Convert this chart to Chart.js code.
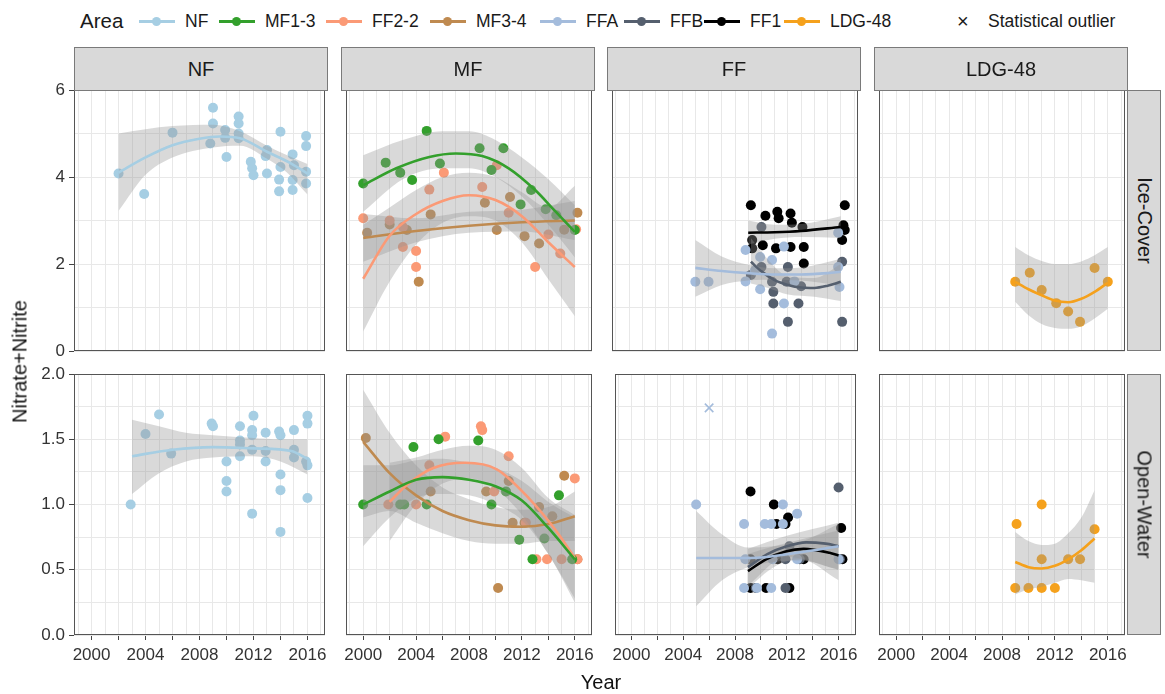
<!DOCTYPE html>
<html>
<head>
<meta charset="utf-8">
<script src="https://cdn.jsdelivr.net/npm/chart.js@4.4.0/dist/chart.umd.min.js"></script>
<style>
body{margin:0;background:#fff;font-family:"Liberation Sans",Arial,sans-serif;}
#wrap{position:relative;width:1165px;height:694px;overflow:hidden;background:#fff;}
#wrap canvas{position:absolute;}
.strip{position:absolute;background:#d9d9d9;border:1px solid #7a7a7a;box-sizing:border-box;color:#1a1a1a;font-size:20px;display:flex;align-items:center;justify-content:center;}
.strip span{white-space:nowrap;}
.rot span{transform:rotate(90deg);}
.lgtext{position:absolute;top:10px;font-size:17.5px;line-height:22px;color:#1a1a1a;white-space:nowrap;}
.key{position:absolute;top:20px;height:3px;width:36px;}
.key i{position:absolute;left:13px;top:-3px;width:9px;height:9px;border-radius:50%;}
.title{position:absolute;font-size:20px;color:#111;text-align:center;white-space:nowrap;}
</style>
</head>
<body>
<div id="wrap"></div>
<script>
// ---- data ----
const areaNames = ['NF', 'MF1-3', 'FF2-2', 'MF3-4', 'FFA', 'FFB', 'FF1', 'LDG-48'];
const areaColors = ['#a6cee3', '#33a02c', '#fb9a76', '#bf8a50', '#a4bcdc', '#555f6e', '#000000', '#f5a11c'];
const facetCols = ['NF', 'MF', 'FF', 'LDG-48'];
const facetRows = ['Ice-Cover', 'Open-Water'];
const xTicks = [2000, 2004, 2008, 2012, 2016];
const iceTicks = [0, 2, 4, 6];
const owTicks = [0, 0.5, 1, 1.5, 2];

// Ice-Cover, [year, value]
const nfIce = [[2002,4.08],[2003.9,3.61],[2006,5.02],[2009,5.59],[2009,5.23],[2008.8,4.77],[2009.9,5.08],[2009.9,4.9],[2010,4.46],[2010.9,5.39],[2010.9,5.23],[2010.9,5.0],[2010.9,4.89],[2011.8,4.35],[2011.9,4.2],[2012,4.04],[2013,4.08],[2013,4.62],[2012.9,4.48],[2014,5.04],[2014,4.23],[2013.9,3.94],[2013.9,3.67],[2014.9,4.52],[2015,4.27],[2014.9,3.93],[2014.9,3.7],[2015.9,4.94],[2015.9,4.71],[2015.9,4.12],[2015.9,3.85]];
const nfIceFit = [[2002,4.1],[2004,4.45],[2006,4.73],[2008,4.88],[2009.5,4.93],[2011,4.89],[2013,4.58],[2014.8,4.31],[2016,4.08]];
const nfIceBand = [[2002,3.22,5.0],[2004,4.05,5.1],[2006,4.45,5.17],[2009,4.68,5.2],[2011,4.72,5.05],[2013,4.42,4.72],[2014.5,4.1,4.5],[2016,3.6,4.3]];

const mf13Ice = [[2000,3.85],[2001.7,4.33],[2002.8,4.1],[2003.7,3.93],[2004.8,5.06],[2005.8,4.31],[2008.8,4.66],[2009.7,4.16],[2010.6,4.66],[2011.9,3.37],[2012.7,3.7],[2013.8,3.26],[2014.6,3.12],[2016,2.78]];
const mf13IceFit = [[2000,3.81],[2002.5,4.2],[2005,4.46],[2007,4.54],[2009,4.48],[2011,4.2],[2013,3.7],[2014.5,3.22],[2016,2.74]];
const mf13IceBand = [[2000,3.2,4.5],[2003,3.95,4.85],[2006,4.2,5.05],[2008,4.2,5.05],[2010,4.0,4.85],[2012,3.55,4.45],[2014,2.9,3.95],[2016,2.15,3.35]];

const ff22Ice = [[2000,3.05],[2002,3.0],[2003,2.85],[2003,2.39],[2004,2.3],[2004,1.93],[2005,3.71],[2006.1,4.1],[2009,3.77],[2010.1,4.27],[2011,3.18],[2013,1.93],[2014,2.68],[2014.9,2.24],[2016.1,2.8]];
const ff22IceFit = [[2000,1.66],[2002,2.65],[2004,3.15],[2006,3.45],[2008,3.58],[2010,3.47],[2012,3.1],[2014,2.5],[2016,1.93]];
const ff22IceBand = [[2000,0.45,2.9],[2002,1.6,3.3],[2004,2.45,3.7],[2006,2.95,4.0],[2008,3.1,4.1],[2010,3.0,4.0],[2012,2.5,3.65],[2014,1.65,3.3],[2016,0.8,3.8]];

const mf34Ice = [[2000.3,2.72],[2002,2.91],[2003.3,2.78],[2004.2,1.59],[2005.1,3.14],[2009.2,3.41],[2010.1,2.78],[2011.1,3.54],[2012.2,2.64],[2013.3,2.47],[2015.2,2.79],[2016.2,3.18]];
const mf34IceFit = [[2000,2.6],[2004,2.76],[2008,2.88],[2012,2.96],[2016,3.0]];
const mf34IceBand = [[2000,2.05,3.15],[2004,2.5,3.05],[2008,2.72,3.2],[2012,2.75,3.25],[2016,2.55,3.45]];

const ffaIce = [[2005,1.59],[2006,1.59],[2008.8,2.32],[2008.8,1.6],[2009.9,2.16],[2009.9,1.42],[2010.8,2.09],[2010.8,0.4],[2011.7,2.4],[2011.7,1.09],[2015.8,2.72],[2015.8,1.93],[2015.9,1.47],[2009.5,1.85],[2012.5,1.6]];
const ffaIceFit = [[2005,1.91],[2007,1.84],[2009,1.79],[2011,1.76],[2013,1.76],[2015,1.79],[2016,1.82]];
const ffaIceBand = [[2005,1.25,2.55],[2007,1.52,2.17],[2009,1.62,1.98],[2011,1.64,1.9],[2013,1.62,1.92],[2016,1.5,2.12]];

const ffbIce = [[2010,2.85],[2010,1.93],[2010.9,1.36],[2010.9,1.09],[2012,1.93],[2012,0.67],[2012.8,1.09],[2013,1.49],[2016.1,2.05],[2016.1,0.67],[2011.9,1.59],[2010.8,1.59],[2009.2,1.75]];
const ffbIceFit = [[2009.2,2.05],[2010,1.83],[2011,1.63],[2012,1.52],[2013,1.46],[2014,1.45],[2015,1.5],[2016,1.59]];
const ffbIceBand = [[2009.2,1.55,2.6],[2010.5,1.45,2.1],[2012,1.3,1.72],[2014,1.25,1.68],[2016,1.15,2.0]];

const ff1Ice = [[2009.2,3.35],[2010.3,3.11],[2011.2,3.2],[2011.3,3.05],[2012.2,3.16],[2012.3,2.95],[2013.1,2.85],[2009.3,2.55],[2009.3,2.36],[2010.1,2.43],[2011.1,2.36],[2012.2,2.39],[2013.2,2.39],[2013.2,2.01],[2016.3,3.35],[2016.2,2.89],[2016.3,2.78],[2016.1,2.55]];
const ff1IceFit = [[2009,2.72],[2011,2.73],[2013,2.76],[2016,2.85]];
const ff1IceBand = [[2009,2.45,3.0],[2011,2.58,2.9],[2013,2.62,2.92],[2016,2.6,3.1]];

const ldgIce = [[2009,1.59],[2010.1,1.8],[2011,1.4],[2012.1,1.1],[2013,0.91],[2013.9,0.67],[2015,1.91],[2016,1.59]];
const ldgIceFit = [[2009,1.59],[2010,1.42],[2011,1.28],[2012,1.16],[2013,1.12],[2014,1.2],[2015,1.36],[2016,1.57]];
const ldgIceBand = [[2009,1.13,2.39],[2010,0.82,2.2],[2011,0.62,2.07],[2012,0.53,2.0],[2013,0.51,2.0],[2014,0.57,2.06],[2015,0.75,2.2],[2016,0.97,2.39]];

// Open-Water, [year, value]
const nfOw = [[2002.9,1.0],[2004,1.54],[2005,1.69],[2005.9,1.39],[2008.9,1.62],[2009,1.6],[2010,1.33],[2010,1.18],[2010,1.1],[2011,1.6],[2011,1.49],[2011,1.46],[2011,1.37],[2012,1.68],[2011.9,1.57],[2011.9,1.53],[2011.9,1.42],[2011.9,0.93],[2012.9,1.55],[2012.9,1.41],[2012.9,1.33],[2013.9,1.56],[2014,1.53],[2014,1.23],[2014,1.11],[2014,0.79],[2015,1.57],[2015,1.42],[2015,1.36],[2016,1.68],[2016,1.62],[2015.9,1.33],[2016,1.3],[2016,1.05]];
const nfOwFit = [[2003,1.37],[2006,1.42],[2009,1.44],[2012,1.43],[2014.8,1.41],[2016,1.35]];
const nfOwBand = [[2003,1.08,1.65],[2005,1.24,1.6],[2007,1.33,1.55],[2009,1.36,1.53],[2012,1.37,1.51],[2014,1.33,1.5],[2016,1.23,1.5]];

const mf13Ow = [[2000,1.0],[2002.8,1.0],[2003.1,1.0],[2003.8,1.44],[2004.8,1.0],[2005.7,1.5],[2008.7,1.49],[2009.7,1.0],[2010.8,1.1],[2011.8,0.73],[2012.8,0.58],[2013.7,0.74],[2014.8,1.07],[2015.8,0.58]];
const mf13OwFit = [[2000,1.0],[2002,1.1],[2004,1.19],[2006,1.21],[2008,1.19],[2010,1.14],[2012,1.03],[2014,0.82],[2016,0.58]];
const mf13OwBand = [[2000,0.68,1.3],[2002,0.9,1.3],[2004,1.05,1.34],[2006,1.08,1.35],[2008,1.07,1.32],[2010,1.0,1.28],[2012,0.88,1.18],[2014,0.62,1.02],[2016,0.25,0.9]];

const ff22Ow = [[2001.9,1.0],[2004,1.0],[2005,1.3],[2006.2,1.52],[2008.9,1.6],[2009,1.57],[2009.9,1.1],[2011,1.37],[2012.3,0.86],[2013.1,0.58],[2013.9,0.58],[2015,0.58],[2016,1.2],[2016.2,0.58]];
const ff22OwFit = [[2002,1.02],[2003.3,1.15],[2005.3,1.28],[2007.7,1.32],[2010.1,1.27],[2012.6,1.04],[2014.5,0.81],[2016,0.59]];
const ff22OwBand = [[2002,0.72,1.32],[2004,1.0,1.36],[2006,1.16,1.42],[2008,1.2,1.45],[2010,1.12,1.42],[2012,0.92,1.28],[2014,0.62,1.05],[2016,0.28,0.92]];

const mf34Ow = [[2000.2,1.51],[2005.1,1.1],[2009.3,1.1],[2010.2,0.36],[2011,1.18],[2011.3,0.86],[2012.2,0.86],[2013.3,0.98],[2014.3,0.91],[2015.2,1.22],[2016.2,0.58]];
const mf34OwFit = [[2000,1.48],[2002,1.24],[2004,1.07],[2006,0.95],[2008,0.88],[2010,0.84],[2012,0.83],[2014,0.85],[2016,0.91]];
const mf34OwBand = [[2000,0.9,1.88],[2002,0.95,1.55],[2004,0.86,1.3],[2006,0.78,1.13],[2008,0.72,1.04],[2010,0.7,0.98],[2012,0.7,0.96],[2014,0.72,0.98],[2016,0.72,1.1]];

const ffaOw = [[2005,1.0],[2008.7,0.85],[2008.8,0.58],[2008.7,0.36],[2009.7,0.36],[2010.8,0.36],[2010.8,0.85],[2011.7,1.0],[2011.7,0.85],[2012.8,0.93],[2010.9,0.58],[2012.8,0.58],[2016,0.58],[2010.3,0.85]];
const ffaOwOutlier = [[2006,1.74]];
const ffaOwFit = [[2005,0.59],[2009.2,0.59],[2012.8,0.63],[2016,0.68]];
const ffaOwBand = [[2005,0.22,0.95],[2007,0.42,0.77],[2009,0.52,0.67],[2011,0.56,0.68],[2013,0.57,0.71],[2016,0.5,0.85]];

const ffbOw = [[2016,1.13],[2011.9,0.36],[2011.9,0.58],[2013,0.58],[2012.2,0.68],[2009.6,0.36],[2016.1,0.58]];
const ffbOwFit = [[2009,0.52],[2010.5,0.62],[2012,0.68],[2013.5,0.71],[2015,0.7],[2016,0.68]];
const ffbOwBand = [[2009,0.38,0.66],[2012,0.6,0.76],[2016,0.5,0.86]];

const ff1Ow = [[2009.2,1.1],[2011,1.0],[2012.1,0.9],[2011.9,0.85],[2016.2,0.82],[2016.3,0.58],[2009.2,0.36],[2010.4,0.36],[2012.2,0.36],[2011.2,0.85],[2011.3,0.58],[2013.3,0.58],[2009.2,0.58]];
const ff1OwFit = [[2009,0.49],[2010.4,0.58],[2011.9,0.64],[2013.3,0.66],[2015.3,0.63],[2016,0.61]];
const ff1OwBand = [[2009,0.36,0.62],[2011,0.52,0.68],[2013,0.58,0.73],[2016,0.42,0.8]];

const ldgOw = [[2009,0.36],[2009.1,0.85],[2010,0.36],[2011,1.0],[2011,0.58],[2011,0.36],[2012,0.36],[2013,0.58],[2013.9,0.58],[2015,0.81]];
const ldgOwFit = [[2009,0.56],[2010,0.52],[2011,0.51],[2012,0.53],[2013,0.58],[2014,0.65],[2015,0.74]];
const ldgOwBand = [[2009,0.31,0.79],[2010,0.35,0.72],[2011,0.37,0.69],[2012,0.4,0.7],[2013,0.43,0.78],[2014,0.42,0.9],[2015,0.4,1.11]];

// ---- layout ----
const colLeft = [74, 341, 607, 874];
const rowTop = [90, 374];
const panelW = 254, panelH = 261;

const panels = [
  {c:0, r:0, s:[{a:0, p:nfIce, f:nfIceFit, b:nfIceBand}]},
  {c:1, r:0, s:[{a:1, p:mf13Ice, f:mf13IceFit, b:mf13IceBand}, {a:2, p:ff22Ice, f:ff22IceFit, b:ff22IceBand}, {a:3, p:mf34Ice, f:mf34IceFit, b:mf34IceBand}]},
  {c:2, r:0, s:[{a:4, p:ffaIce, f:ffaIceFit, b:ffaIceBand}, {a:5, p:ffbIce, f:ffbIceFit, b:ffbIceBand}, {a:6, p:ff1Ice, f:ff1IceFit, b:ff1IceBand}]},
  {c:3, r:0, s:[{a:7, p:ldgIce, f:ldgIceFit, b:ldgIceBand}]},
  {c:0, r:1, s:[{a:0, p:nfOw, f:nfOwFit, b:nfOwBand}]},
  {c:1, r:1, s:[{a:1, p:mf13Ow, f:mf13OwFit, b:mf13OwBand}, {a:2, p:ff22Ow, f:ff22OwFit, b:ff22OwBand}, {a:3, p:mf34Ow, f:mf34OwFit, b:mf34OwBand}]},
  {c:2, r:1, s:[{a:4, p:ffaOw, f:ffaOwFit, b:ffaOwBand, o:ffaOwOutlier}, {a:5, p:ffbOw, f:ffbOwFit, b:ffbOwBand}, {a:6, p:ff1Ow, f:ff1OwFit, b:ff1OwBand}]},
  {c:3, r:1, s:[{a:7, p:ldgOw, f:ldgOwFit, b:ldgOwBand}]}
];

Chart.defaults.font.family = '"Liberation Sans", Arial, sans-serif';
Chart.defaults.color = '#333';

const wrap = document.getElementById('wrap');

const panelBorder = {
  id: 'panelBorder',
  afterDatasetsDraw(chart) {
    const a = chart.chartArea, c = chart.ctx;
    c.save();
    c.strokeStyle = '#555';
    c.lineWidth = 1;
    c.strokeRect(Math.round(a.left) + 0.5, Math.round(a.top) + 0.5, Math.round(a.right - a.left) - 1, Math.round(a.bottom - a.top) - 1);
    c.restore();
  }
};

const xy = arr => arr.map(p => ({x: p[0], y: p[1]}));

function buildSets(series) {
  const sets = [];
  series.forEach(s => {
    sets.push({data: xy(s.p), backgroundColor: areaColors[s.a], borderWidth: 0, pointRadius: 5, order: 3});
    if (s.o) {
      sets.push({data: xy(s.o), pointStyle: 'crossRot', pointRadius: 6, borderColor: areaColors[s.a], borderWidth: 1.6, order: 3});
    }
  });
  series.forEach(s => {
    sets.push({data: s.b.map(b => ({x: b[0], y: b[2]})), showLine: true, pointRadius: 0, borderWidth: 0,
      fill: '+1', backgroundColor: 'rgba(150,150,150,0.36)', cubicInterpolationMode: 'monotone', order: 2});
    sets.push({data: s.b.map(b => ({x: b[0], y: b[1]})), showLine: true, pointRadius: 0, borderWidth: 0,
      fill: false, cubicInterpolationMode: 'monotone', order: 2});
  });
  series.forEach(s => {
    sets.push({data: xy(s.f), showLine: true, pointRadius: 0, borderColor: areaColors[s.a], borderWidth: 2.6,
      fill: false, cubicInterpolationMode: 'monotone', order: 1});
  });
  return sets;
}

panels.forEach(pn => {
  const L = colLeft[pn.c], T = rowTop[pn.r];
  const left = pn.c === 0 ? 0 : L;
  const top = T - 14;
  const width = L + panelW + 2 - left;
  const height = pn.r === 0 ? panelH + 28 : panelH + 14 + 40;
  const cv = document.createElement('canvas');
  cv.width = width; cv.height = height;
  cv.style.left = left + 'px'; cv.style.top = top + 'px';
  wrap.appendChild(cv);

  const ice = pn.r === 0;
  const yLab = ice ? iceTicks : owTicks;
  new Chart(cv, {
    type: 'scatter',
    data: {datasets: buildSets(pn.s)},
    plugins: [panelBorder],
    options: {
      responsive: false,
      devicePixelRatio: 1,
      animation: false,
      layout: {padding: {top: 14, right: 2, bottom: ice ? 14 : 0, left: 0}},
      plugins: {legend: {display: false}, tooltip: {enabled: false}},
      scales: {
        x: {
          type: 'linear', min: 1998.7, max: 2017.3,
          ticks: {stepSize: 1, autoSkip: false, includeBounds: false, maxRotation: 0, display: !ice,
            padding: 5, color: '#333', font: {size: 17},
            callback: v => xTicks.includes(v) ? String(v) : ''},
          grid: {color: '#e8e8e8', lineWidth: 1, drawTicks: !ice, tickLength: 5, tickWidth: 1,
            tickColor: ctx => (ctx.tick && ctx.tick.value % 2 === 0) ? '#444' : 'rgba(0,0,0,0)'},
          border: {display: false},
          afterFit: s => { s.height = ice ? 0 : 40; s.paddingLeft = 0; s.paddingRight = 0; }
        },
        y: {
          type: 'linear', min: 0, max: ice ? 6 : 2,
          ticks: {stepSize: ice ? 1 : 0.25, autoSkip: false, display: pn.c === 0, padding: 4,
            color: '#333', font: {size: 17},
            callback: v => yLab.includes(v) ? (ice ? String(v) : v.toFixed(1)) : ''},
          grid: {color: '#e8e8e8', lineWidth: 1, drawTicks: pn.c === 0, tickLength: 5, tickWidth: 1,
            tickColor: ctx => (ctx.tick && yLab.includes(ctx.tick.value)) ? '#444' : 'rgba(0,0,0,0)'},
          border: {display: false},
          afterFit: s => { s.width = pn.c === 0 ? 74 : 0; s.paddingTop = 0; s.paddingBottom = 0; }
        }
      }
    }
  });
});

// strips
facetCols.forEach((name, i) => {
  const d = document.createElement('div');
  d.className = 'strip';
  d.style.left = colLeft[i] + 'px'; d.style.top = '47px';
  d.style.width = panelW + 'px'; d.style.height = '44px';
  d.innerHTML = '<span>' + name + '</span>';
  wrap.appendChild(d);
});
facetRows.forEach((name, i) => {
  const d = document.createElement('div');
  d.className = 'strip rot';
  d.style.left = (colLeft[3] + panelW - 1) + 'px'; d.style.top = rowTop[i] + 'px';
  d.style.width = '34px'; d.style.height = panelH + 'px';
  d.innerHTML = '<span>' + name + '</span>';
  wrap.appendChild(d);
});

// legend
const legendX = [185, 265, 372, 476, 586, 670, 750, 830];
function addText(txt, x, size) {
  const t = document.createElement('div');
  t.className = 'lgtext';
  t.style.left = x + 'px';
  if (size) t.style.fontSize = size + 'px';
  t.textContent = txt;
  wrap.appendChild(t);
}
addText('Area', 80, 20.5);
areaNames.forEach((n, i) => {
  const k = document.createElement('div');
  k.className = 'key';
  k.style.left = (legendX[i] - 46) + 'px';
  k.style.background = areaColors[i];
  k.innerHTML = '<i style="background:' + areaColors[i] + '"></i>';
  wrap.appendChild(k);
  addText(n, legendX[i]);
});
addText('\u00d7', 957, 20);
addText('Statistical outlier', 988, 17.5);

// axis titles
const yt = document.createElement('div');
yt.className = 'title';
yt.style.left = '-180px'; yt.style.top = '350px'; yt.style.width = '400px';
yt.style.transform = 'rotate(-90deg)';
yt.textContent = 'Nitrate+Nitrite';
wrap.appendChild(yt);
const xt = document.createElement('div');
xt.className = 'title';
xt.style.left = '501px'; xt.style.top = '671px'; xt.style.width = '200px';
xt.textContent = 'Year';
wrap.appendChild(xt);
</script>
</body>
</html>
